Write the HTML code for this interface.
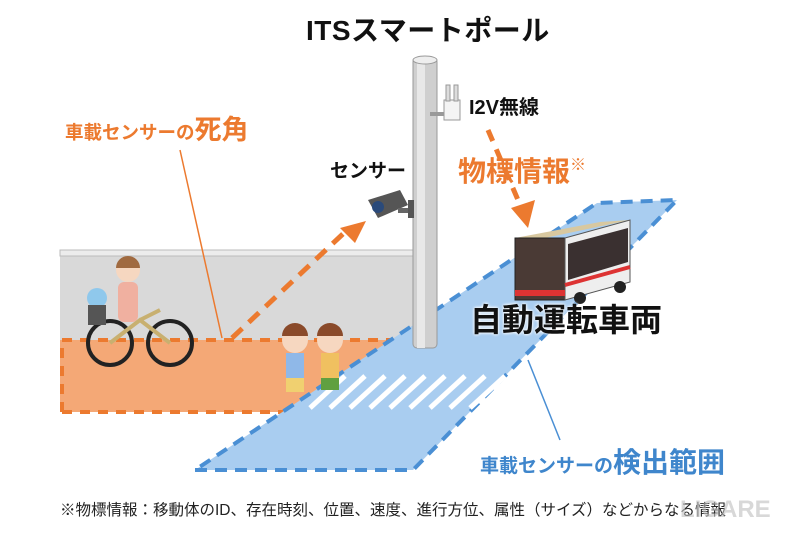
<!DOCTYPE html>
<html><head><meta charset="utf-8"><style>
body{margin:0;width:799px;height:533px;background:#fff;overflow:hidden;position:relative;font-family:"Liberation Sans","Noto Sans CJK JP",sans-serif}
.t{position:absolute;white-space:nowrap;font-weight:bold;line-height:1}
</style></head><body>
<svg width="799" height="533" style="position:absolute;left:0;top:0">
<rect x="60" y="252" width="355" height="88" fill="#d9d9d9"/>
<rect x="60" y="250" width="355" height="6" fill="#ececec" stroke="#bbb" stroke-width="1"/>
<polygon points="60,340 415,340 300,412 60,412" fill="#f4a876"/>
<path d="M62,412 L62,340 L415,340" fill="none" stroke="#ec7a2f" stroke-width="4" stroke-dasharray="10,8"/>
<path d="M62,412 L300,412" fill="none" stroke="#ec7a2f" stroke-width="4" stroke-dasharray="10,8"/>
<polygon points="195,470 413,470 677,200 597,203" fill="#a9cdf0"/>
<polygon points="195,470 413,470 677,200 597,203" fill="none" stroke="#4a8fd4" stroke-width="4" stroke-dasharray="12,8"/>
<g stroke="#fff" stroke-width="5">
<line x1="310" y1="408" x2="345" y2="376"/><line x1="330" y1="408" x2="365" y2="376"/>
<line x1="350" y1="408" x2="385" y2="376"/><line x1="370" y1="408" x2="405" y2="376"/>
<line x1="390" y1="408" x2="425" y2="376"/><line x1="410" y1="408" x2="445" y2="376"/>
<line x1="430" y1="408" x2="465" y2="376"/><line x1="450" y1="408" x2="485" y2="376"/>
<line x1="470" y1="408" x2="505" y2="376"/><line x1="490" y1="408" x2="525" y2="376"/>
</g>
<rect x="413" y="58" width="24" height="290" rx="4" fill="#cfcfcf" stroke="#999"/>
<rect x="417" y="58" width="8" height="290" fill="#e8e8e8"/>
<ellipse cx="425" cy="60" rx="12" ry="4" fill="#eee" stroke="#999"/>
<rect x="430" y="112" width="14" height="4" fill="#999"/>
<rect x="444" y="100" width="16" height="20" fill="#f4f4f4" stroke="#999"/>
<rect x="446" y="85" width="4" height="16" fill="#ddd" stroke="#999"/>
<rect x="454" y="85" width="4" height="16" fill="#ddd" stroke="#999"/>
<polygon points="368,200 400,190 408,205 378,218" fill="#555"/>
<circle cx="378" cy="207" r="6" fill="#2a4a7a"/>
<rect x="398" y="208" width="14" height="5" fill="#666"/><rect x="408" y="200" width="6" height="18" fill="#555"/>
<path d="M232,338 L345,232" stroke="#ec7a2f" stroke-width="5" stroke-dasharray="14,9" fill="none"/>
<polygon points="366,221 340,228 355,243" fill="#ec7a2f"/>
<path d="M488,130 L518,200" stroke="#ec7a2f" stroke-width="5" stroke-dasharray="12,9" fill="none"/>
<polygon points="511,208 535,200 528,228" fill="#ec7a2f"/>
<line x1="180" y1="150" x2="222" y2="338" stroke="#ec7a2f" stroke-width="1.5"/>
<line x1="528" y1="360" x2="560" y2="440" stroke="#4a8fd4" stroke-width="1.5"/>
<polygon points="515,238 600,222 630,220 545,238" fill="#d8c8a0"/>
<rect x="515" y="238" width="50" height="62" fill="#4a3a35" stroke="#222"/>
<polygon points="565,238 630,220 630,282 565,300" fill="#eee" stroke="#555"/>
<polygon points="568,244 628,228 628,262 568,280" fill="#3a3030"/>
<line x1="565" y1="285" x2="630" y2="267" stroke="#d33" stroke-width="4"/>
<rect x="515" y="290" width="50" height="6" fill="#d33"/>
<circle cx="580" cy="298" r="6" fill="#222"/><circle cx="620" cy="287" r="6" fill="#222"/>
<circle cx="110" cy="343" r="22" fill="none" stroke="#222" stroke-width="4"/>
<circle cx="170" cy="343" r="22" fill="none" stroke="#222" stroke-width="4"/>
<path d="M110,343 L140,320 L170,343 M140,320 L160,310" stroke="#c8b070" stroke-width="4" fill="none"/>
<rect x="118" y="282" width="20" height="40" rx="6" fill="#f0b0a0"/>
<circle cx="128" cy="270" r="12" fill="#f6d7c0"/><path d="M116,268 a12,12 0 0 1 24,0z" fill="#a06a40"/>
<circle cx="97" cy="298" r="10" fill="#8fc8ec"/><rect x="88" y="305" width="18" height="20" fill="#555"/>
<circle cx="295" cy="340" r="13" fill="#f6d7c0"/><path d="M282,336 a13,13 0 0 1 26,0z" fill="#8a4a2a"/>
<rect x="286" y="353" width="18" height="25" fill="#8fb8e8"/><rect x="286" y="378" width="18" height="14" fill="#f0d070"/>
<circle cx="330" cy="340" r="13" fill="#f6d7c0"/><path d="M317,336 a13,13 0 0 1 26,0z" fill="#8a4a2a"/>
<rect x="321" y="353" width="18" height="25" fill="#f0c060"/><rect x="321" y="378" width="18" height="12" fill="#60a040"/>
</svg>
<div class="t" style="left:306px;top:17px;font-size:28px;color:#111;letter-spacing:0.5px">ITSスマートポール</div>
<div class="t" style="left:469px;top:98px;font-size:20px;color:#111">I2V無線</div>
<div class="t" style="left:65px;top:117px;font-size:18.5px;color:#ec7a2f">車載センサーの<span style="font-size:27px">死角</span></div>
<div class="t" style="left:330px;top:162px;font-size:19px;color:#111">センサー</div>
<div class="t" style="left:458px;top:158px;font-size:28px;color:#ec7a2f">物標情報<span style="font-size:16px;vertical-align:top">※</span></div>
<div class="t" style="left:470px;top:304px;font-size:32px;color:#111;text-shadow:0 0 3px #fff,0 0 3px #fff">自動運転車両</div>
<div class="t" style="left:480px;top:449px;font-size:19px;color:#3f86cc">車載センサーの<span style="font-size:28px">検出範囲</span></div>
<div class="t" style="left:60px;top:503px;font-size:15.5px;font-weight:normal;color:#222">※物標情報：移動体のID、存在時刻、位置、速度、進行方位、属性（サイズ）などからなる情報</div>
<div class="t" style="left:680px;top:498px;font-size:24px;color:rgba(190,190,190,0.6)">LIGARE</div>
</body></html>
